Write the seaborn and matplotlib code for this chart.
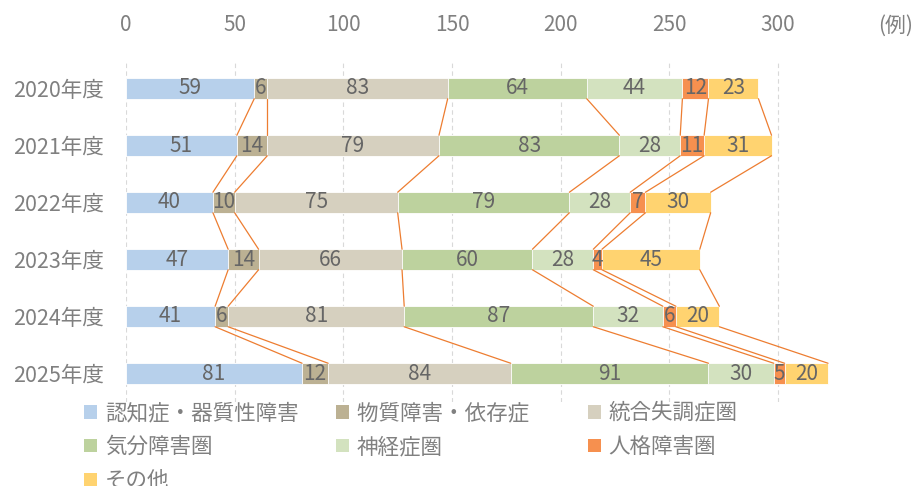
import pandas as pd
import seaborn as sns
import matplotlib.pyplot as plt
from matplotlib.patches import Patch
import matplotlib.transforms as mtransforms

years = ['2020年度', '2021年度', '2022年度', '2023年度', '2024年度', '2025年度']
series = ['認知症・器質性障害', '物質障害・依存症', '統合失調症圏', '気分障害圏',
          '神経症圏', '人格障害圏', 'その他']
dementia = [59, 51, 40, 47, 41, 81]
substance = [6, 14, 10, 14, 6, 12]
schizo = [83, 79, 75, 66, 81, 84]
mood = [64, 83, 79, 60, 87, 91]
neurosis = [44, 28, 28, 28, 32, 30]
personality = [12, 11, 7, 4, 6, 5]
other = [23, 31, 30, 45, 20, 20]
x_ticks = [0, 50, 100, 150, 200, 250, 300, 350]
x_labels = ['0', '50', '100', '150', '200', '250', '300', '(例)']

colors = ['#B7D0EB', '#BCB193', '#D6D0BF', '#BDD29E', '#D3E2BF', '#F6904F', '#FFD370']
line_color = '#ED7D31'

sns.set_theme(style='white')
plt.rcParams['font.family'] = ['Noto Sans CJK JP', 'DejaVu Sans']

values = [dementia, substance, schizo, mood, neurosis, personality, other]
df = pd.DataFrame({name: v for name, v in zip(series, values)}, index=years)
cum = df.cumsum(axis=1)

fig = plt.figure(figsize=(9.2, 4.86), dpi=100)
ax = fig.add_axes([126 / 920, 1 - 402 / 486, (886.7 - 126) / 920, 342 / 486])

bar_h = 0.36
# overlay cumulative bars, from the total down to the first series
for k in range(len(series) - 1, -1, -1):
    d = pd.DataFrame({'year': years, 'value': cum.iloc[:, k].values})
    sns.barplot(data=d, x='value', y='year', orient='h', color=colors[k],
                width=bar_h, edgecolor='white', linewidth=0.6, errorbar=None,
                saturation=1, ax=ax, zorder=3)

# data labels
for i, yr in enumerate(years):
    for k, s in enumerate(series):
        v = df.loc[yr, s]
        ax.text(cum.loc[yr, s] - v / 2, i, str(v), ha='center', va='center',
                fontsize=15, color='#666666', zorder=5)

# series lines between bars
for i in range(len(years) - 1):
    for k in range(len(series)):
        ax.plot([cum.iloc[i, k], cum.iloc[i + 1, k]],
                [i + bar_h / 2, i + 1 - bar_h / 2],
                color=line_color, lw=0.9, zorder=4)

ax.set_xlim(0, 350)
ax.set_ylim(5.5, -0.5)
ax.set_xlabel('')
ax.set_ylabel('')
ax.xaxis.tick_top()
ax.set_xticks(x_ticks)
ax.set_xticklabels(x_labels)
ax.tick_params(axis='x', length=0, pad=17, labelsize=15, labelcolor='#808080')
ax.tick_params(axis='y', length=0, pad=16, labelsize=15.5, labelcolor='#808080')
for sp in ax.spines.values():
    sp.set_visible(False)
ax.set_axisbelow(True)
ax.grid(axis='x', color='#D9D9D9', linestyle=(0, (4, 3)), lw=0.8)
ax.xaxis.get_gridlines()[-1].set_visible(False)
lab = ax.get_xticklabels()[-1]
lab.set_transform(lab.get_transform() + mtransforms.ScaledTranslation(9 / 100, 0, fig.dpi_scale_trans))

# legend (column-major order so rows read like the original)
order = [0, 3, 6, 1, 4, 2, 5]
handles = []
for k in order:
    name = series[k]
    if k == 1:
        name = name + '　'
    handles.append(Patch(facecolor=colors[k], edgecolor='none', label=name))
fig.legend(handles=handles, loc='upper left', bbox_to_anchor=(80 / 920, 1 - 398 / 486),
           ncol=3, frameon=False, fontsize=15.5, labelcolor='#808080',
           handlelength=0.6, handleheight=0.6, handletextpad=0.35,
           columnspacing=1.75, labelspacing=0.55, borderaxespad=0, borderpad=0.2)

fig.savefig('out.png', dpi=100)
